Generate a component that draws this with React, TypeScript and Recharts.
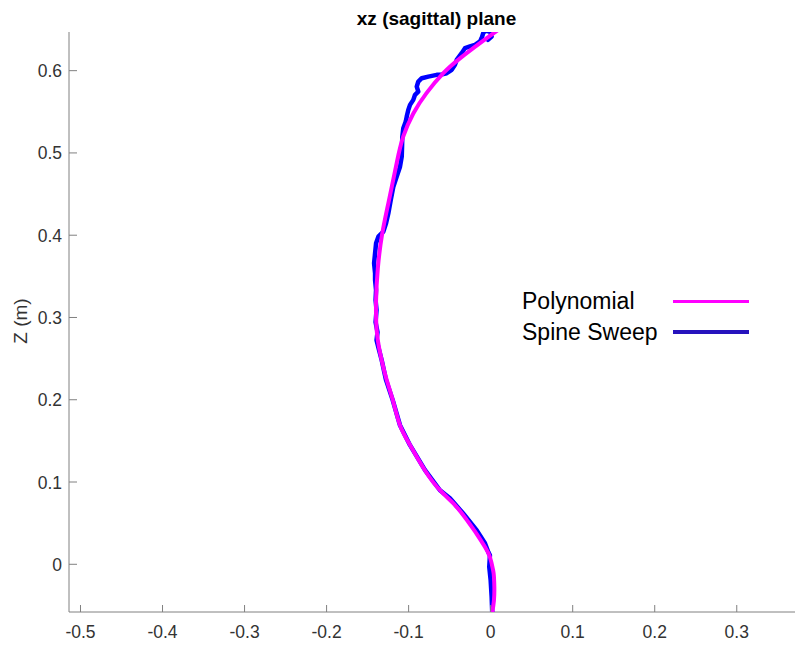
import React from 'react';
import { ScatterChart, Scatter, XAxis, YAxis, Legend } from 'recharts';

// ---- data ----
const polyZ = [-0.058, -0.044, -0.028, -0.015, -0.007, 0.009, 0.021, 0.037, 0.054, 0.072, 0.09, 0.114, 0.145, 0.169, 0.2, 0.225, 0.248, 0.28, 0.32, 0.36, 0.4, 0.44, 0.488, 0.52, 0.548, 0.573, 0.597, 0.615, 0.6335, 0.6496];
const polyX = [0.002, 0.004, 0.0045, 0.004, 0.003, -0.001, -0.0069, -0.0171, -0.0292, -0.0435, -0.0618, -0.08, -0.0983, -0.1105, -0.1194, -0.127, -0.1328, -0.1385, -0.1397, -0.1375, -0.1325, -0.1245, -0.1145, -0.1065, -0.0943, -0.078, -0.0577, -0.0374, -0.013, 0.0093];

const sweepZ = [-0.058, -0.0398, -0.0195, -0.0033, 0.0109, 0.015, 0.0255, 0.0414, 0.062, 0.0803, 0.09, 0.1144, 0.1448, 0.169, 0.1995, 0.2238, 0.248, 0.2603, 0.2725, 0.2822, 0.2944, 0.309, 0.3212, 0.3333, 0.3455, 0.3537, 0.3658, 0.378, 0.3901, 0.3982, 0.4043, 0.4145, 0.4266, 0.4428, 0.459, 0.4712, 0.4833, 0.4955, 0.5077, 0.5198, 0.53, 0.5381, 0.5442, 0.5523, 0.5584, 0.5645, 0.5706, 0.5746, 0.5807, 0.5868, 0.5908, 0.5928, 0.5949, 0.5949, 0.5969, 0.601, 0.6071, 0.6131, 0.6213, 0.6274, 0.6294, 0.6314, 0.6355, 0.6396, 0.6457, 0.6484, 0.6475, 0.6414, 0.6375];
const sweepX = [0.0019, 0.0012, 0.0, -0.0017, -0.0009, -0.0029, -0.0069, -0.0171, -0.0337, -0.0496, -0.0618, -0.08, -0.0983, -0.1105, -0.1194, -0.1275, -0.1328, -0.136, -0.1391, -0.1379, -0.1403, -0.1391, -0.1403, -0.1397, -0.1409, -0.1409, -0.1421, -0.1409, -0.1397, -0.1369, -0.1308, -0.1275, -0.1247, -0.1218, -0.1186, -0.1145, -0.1105, -0.1084, -0.108, -0.1077, -0.1065, -0.1035, -0.1023, -0.1004, -0.0983, -0.0943, -0.0922, -0.0882, -0.0901, -0.0882, -0.084, -0.076, -0.0658, -0.0618, -0.0536, -0.0475, -0.0435, -0.0414, -0.0353, -0.0313, -0.0252, -0.0191, -0.013, -0.011, -0.009, -0.007, -0.0009, 0.0012, -0.0033];

const xTicks = [-0.5, -0.4, -0.3, -0.2, -0.1, 0, 0.1, 0.2, 0.3];
const zTicks = [0, 0.1, 0.2, 0.3, 0.4, 0.5, 0.6];
const xDomain: [number, number] = [-0.514, 0.371];
const zDomain: [number, number] = [-0.058, 0.647];

const seriesNames = ['Polynomial', 'Spine Sweep'];

// ---- styles ----
const FONT = '"Liberation Sans", Arial, Helvetica, sans-serif';
const AXIS = '#808080';
const TXT = '#333333';
const MAGENTA = '#ff00ff';
const BLUE = '#0000ff';
const LEGEND_BLUE = '#2612bd';

const polyData = polyZ.map((z, i) => ({ x: polyX[i], z }));
const sweepData = sweepZ.map((z, i) => ({ x: sweepX[i], z }));

const fmt = (v: number) => String(v);

const BottomTick = (p: any) => {
  const { x, y, payload } = p;
  return (
    <g>
      <line x1={x} x2={x} y1={y} y2={y - 7} stroke={AXIS} strokeWidth={1} />
      <text x={x} y={y + 26} textAnchor="middle" fill={TXT} fontSize={17.5} fontFamily={FONT}>
        {fmt(payload.value)}
      </text>
    </g>
  );
};

const TopTick = (p: any) => {
  const { x, y } = p;
  return <line x1={x} x2={x} y1={y} y2={y + 7} stroke={AXIS} strokeWidth={1} />;
};

const LeftTick = (p: any) => {
  const { x, y, payload } = p;
  return (
    <g>
      <line x1={x} x2={x + 8} y1={y} y2={y} stroke={AXIS} strokeWidth={1} />
      <text x={x - 7} y={y + 6.5} textAnchor="end" fill={TXT} fontSize={17.5} fontFamily={FONT}>
        {fmt(payload.value)}
      </text>
    </g>
  );
};

const LegendBox = () => {
  const colors = [MAGENTA, LEGEND_BLUE];
  return (
    <div style={{ fontFamily: FONT, fontSize: 23, color: '#000' }}>
      {seriesNames.map((n, i) => (
        <div key={n} style={{ display: 'flex', alignItems: 'center', height: 30.5, lineHeight: '30px' }}>
          <span style={{ width: 151, whiteSpace: 'nowrap' }}>{n}</span>
          <span style={{ width: 76, height: 3.5, background: colors[i], display: 'inline-block' }} />
        </div>
      ))}
    </div>
  );
};

export default function App() {
  return (
    <div style={{ position: 'absolute', left: 0, top: 0, width: 795, height: 645, background: '#fff' }}>
      <ScatterChart width={795} height={645} margin={{ top: 32, right: 0, bottom: 0, left: 0 }}>
        <XAxis
          xAxisId={0}
          type="number"
          dataKey="x"
          domain={xDomain}
          allowDataOverflow
          ticks={xTicks}
          interval={0}
          height={33}
          tickSize={0}
          tickMargin={0}
          tickLine={false}
          axisLine={{ stroke: AXIS }}
          tick={<BottomTick />}
        />
        <XAxis
          xAxisId="top"
          orientation="top"
          type="number"
          dataKey="x"
          domain={xDomain}
          allowDataOverflow
          ticks={xTicks}
          interval={0}
          height={0}
          tickSize={0}
          tickMargin={0}
          tickLine={false}
          axisLine={{ stroke: AXIS }}
          tick={<TopTick />}
        />
        <YAxis
          type="number"
          dataKey="z"
          domain={zDomain}
          allowDataOverflow
          ticks={zTicks}
          interval={0}
          width={69}
          tickSize={0}
          tickMargin={0}
          tickLine={false}
          axisLine={{ stroke: AXIS }}
          tick={<LeftTick />}
        />
        <Scatter
          name={seriesNames[1]}
          xAxisId={0}
          data={sweepData}
          fill={BLUE}
          line={{ stroke: BLUE, strokeWidth: 4.5, strokeLinejoin: 'round', strokeLinecap: 'round' }}
          lineJointType="linear"
          shape={() => <g />}
          isAnimationActive={false}
        />
        <Scatter
          name={seriesNames[0]}
          xAxisId={0}
          data={polyData}
          fill={MAGENTA}
          line={{ stroke: MAGENTA, strokeWidth: 4, strokeLinejoin: 'round', strokeLinecap: 'round' }}
          lineJointType="natural"
          shape={() => <g />}
          isAnimationActive={false}
        />
        <Legend
          layout="horizontal"
          align="center"
          verticalAlign="middle"
          wrapperStyle={{ left: 522, top: 286, width: 240 }}
          content={() => <LegendBox />}
        />
      </ScatterChart>
      <svg width={795} height={645} style={{ position: 'absolute', left: 0, top: 0, pointerEvents: 'none' }}>
        <text x={436.5} y={25} textAnchor="middle" fontWeight="bold" fontSize={19} fontFamily={FONT} fill="#000">
          xz (sagittal) plane
        </text>
        <text transform="translate(27,321) rotate(-90)" textAnchor="middle" fontSize={19} fontFamily={FONT} fill={TXT}>
          Z (m)
        </text>
      </svg>
    </div>
  );
}
